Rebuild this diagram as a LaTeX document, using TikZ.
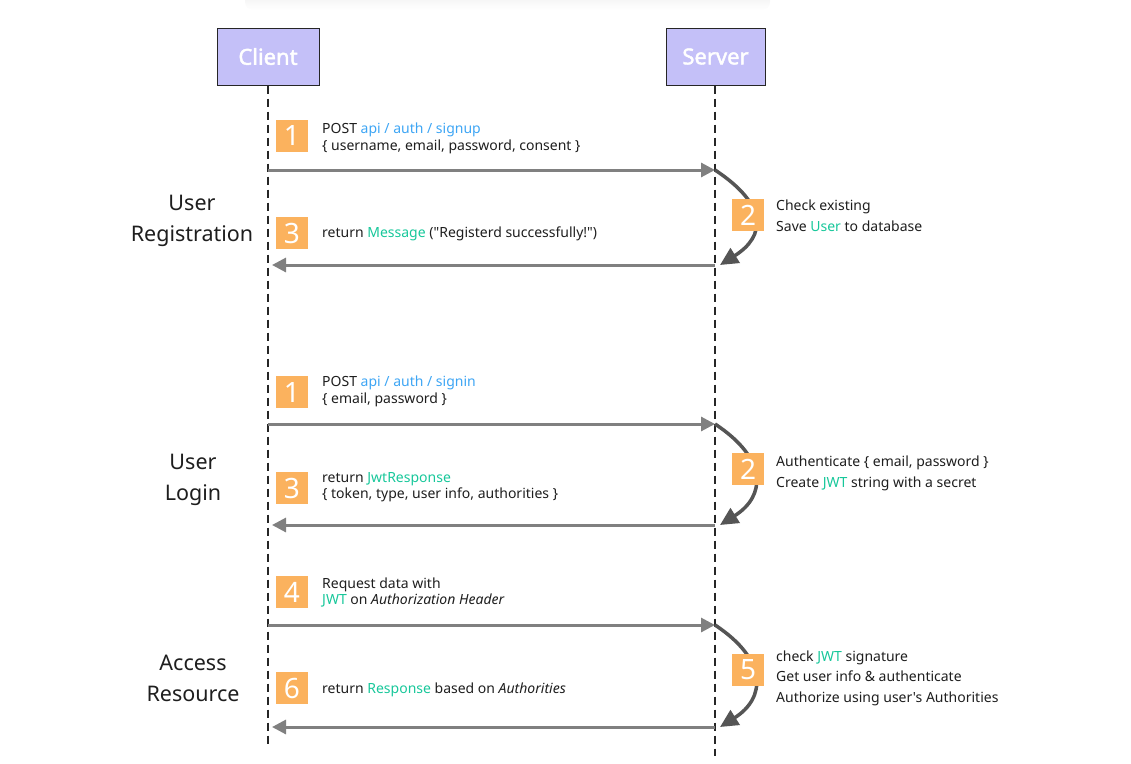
\documentclass[tikz,border=0pt]{standalone}
\usepackage{fontspec}
% no TeX ligature mapping, so quotes and apostrophes stay straight
\setmainfont{Noto Sans}[AutoFakeBold=2, Ligatures=TeXOff]
\usetikzlibrary{arrows.meta}
\definecolor{actorfill}{HTML}{C4C0F8}
\definecolor{badgefill}{HTML}{FBB25E}
\definecolor{linkblue}{HTML}{3DA5F4}
\definecolor{okgreen}{HTML}{17C79A}
\definecolor{msggray}{HTML}{808080}
\definecolor{loopgray}{HTML}{555555}
\definecolor{txt}{HTML}{1E1E1E}
\newcommand{\hlb}[1]{\textcolor{linkblue}{#1}}
\newcommand{\hlg}[1]{\textcolor{okgreen}{#1}}
\tikzset{
  actor/.style={draw=black!85, line width=1pt, fill=actorfill, minimum width=102pt, minimum height=57pt,
    inner sep=0pt, text=white, font=\fontsize{22}{26}\selectfont\bfseries},
  lifeline/.style={draw=black!85, line width=1.1pt, dash pattern=on 8pt off 5pt},
  badge/.style={fill=badgefill, minimum size=32pt, inner sep=0pt, text=white,
    font=\fontsize{28}{28}\selectfont},
  msgtext/.style={anchor=base west, inner sep=0pt, align=left, text=txt,
    font=\fontsize{14}{16.5}\selectfont},
  sidetext/.style={anchor=base west, inner sep=0pt, align=left, text=txt,
    font=\fontsize{14}{20.5}\selectfont},
  section/.style={anchor=base, inner sep=0pt, align=center, text=txt,
    font=\fontsize{21.5}{31}\selectfont},
  msg/.style={draw=msggray, line width=3pt, -{Triangle[length=14pt,width=14pt]}},
  loop/.style={draw=loopgray, line width=3.5pt, -{Triangle[length=18pt,width=17pt]}},
}
\begin{document}
\begin{tikzpicture}[x=1pt, y=-1pt]
\useasboundingbox (0,0) rectangle (1131,763);
% faint header shadow
\shade[top color=black!6, bottom color=white, rounded corners=8pt] (245,-8) rectangle (770,10);

% participants
\node[actor] (client) at (268,56.5) {Client};
\node[actor, minimum width=99pt] (server) at (715.5,56.5) {Server};
\coordinate (cend) at (268,748);
\coordinate (send) at (715,756);
\draw[lifeline] (client.south) -- (cend);
\draw[lifeline] (server.south -| send) -- (send);

% message anchors on the lifelines
\foreach \n/\y in {r1/170, r3/265, l1/424, l3/525, a4/625, a6/727}{
  \coordinate (c-\n) at (268,\y);
  \coordinate (s-\n) at (715,\y);
}
\coordinate (c-r3t) at (272,265);
\coordinate (c-l3t) at (272,525);
\coordinate (c-a6t) at (272,727);

% ---------- User Registration ----------
% (multi-line nodes are placed by the baseline of their last line)
\node[section] (secreg) at (192,241) {User\\Registration};
\node[badge] (br1) at (292,136) {1};
\node[msgtext] (tr1) at (322,150) {POST \hlb{api / auth / signup}\\\{ username, email, password, consent \}};
\draw[msg] (c-r1) -- (s-r1);
\node[sidetext] (tr2) at (776,231) {Check existing\\Save \hlg{User} to database};
\node[badge] (br3) at (292,233) {3};
\node[msgtext] (tr3) at (322,237) {return \hlg{Message} ("Registerd successfully!")};
\draw[msg] (s-r3) -- (c-r3t);
\draw[loop] (s-r1) .. controls (768,205) and (766,236) .. ([xshift=5pt]s-r3);
\node[badge] (br2) at (748,215) {2};

% ---------- User Login ----------
\node[section] (seclog) at (193,500) {User\\Login};
\node[badge] (bl1) at (292,392) {1};
\node[msgtext] (tl1) at (322,403) {POST \hlb{api / auth / signin}\\\{ email, password \}};
\draw[msg] (c-l1) -- (s-l1);
\node[sidetext] (tl2) at (776,487) {Authenticate \{ email, password \}\\Create \hlg{JWT} string with a secret};
\node[badge] (bl3) at (292,488) {3};
\node[msgtext] (tl3) at (322,498.5) {return \hlg{JwtResponse}\\\{ token, type, user info, authorities \}};
\draw[msg] (s-l3) -- (c-l3t);
\draw[loop] (s-l1) .. controls (768,459) and (766,496) .. ([xshift=5pt]s-l3);
\node[badge] (bl2) at (748,469) {2};

% ---------- Access Resource ----------
\node[section] (secacc) at (193,701) {Access\\Resource};
\node[badge] (ba4) at (292,592) {4};
\node[msgtext] (ta4) at (322,604.5) {Request data with\\\hlg{JWT} on \textit{Authorization Header}};
\draw[msg] (c-a4) -- (s-a4);
\node[sidetext] (ta5) at (776,702) {check \hlg{JWT} signature\\Get user info \& authenticate\\Authorize using user's Authorities};
\node[badge] (ba6) at (292,688) {6};
\node[msgtext] (ta6) at (322,693) {return \hlg{Response} based on \textit{Authorities}};
\draw[msg] (s-a6) -- (c-a6t);
\draw[loop] (s-a4) .. controls (768,660) and (766,698) .. ([xshift=5pt]s-a6);
\node[badge] (ba5) at (748,670) {5};
\end{tikzpicture}
\end{document}
